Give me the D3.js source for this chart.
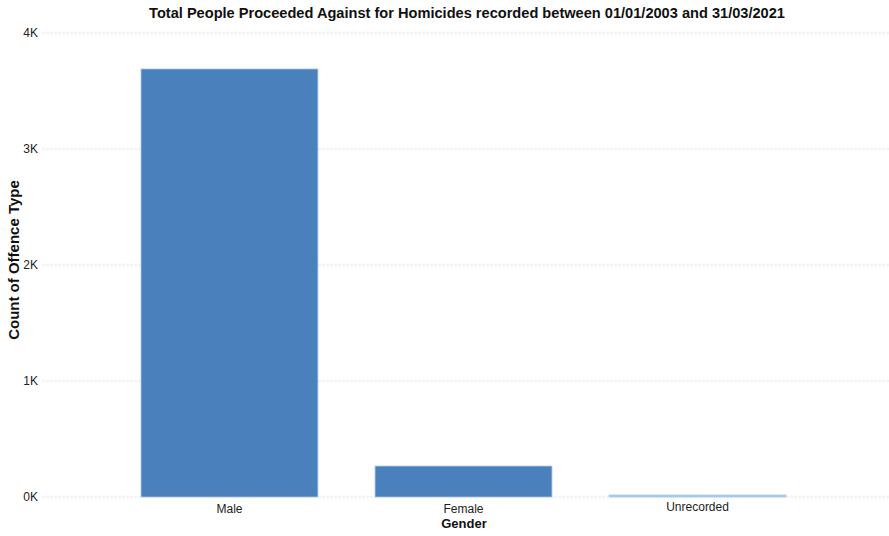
<!DOCTYPE html>
<html><head><meta charset="utf-8">
<script src="https://cdn.jsdelivr.net/npm/d3@7"></script>
<style>body{margin:0;background:#fff;}svg{display:block;font-family:"Liberation Sans",Arial,sans-serif;}</style>
</head><body><svg id="c" width="889" height="536"></svg>
<script>
const categories = ["Male", "Female", "Unrecorded"];
const counts = [3690, 267, 12];
const yTicks = [0, 1000, 2000, 3000, 4000];
const title = "Total People Proceeded Against for Homicides recorded between 01/01/2003 and 31/03/2021";

const svg = d3.select("#c");
const x = d3.scaleBand().domain(categories).range([42, 885]).paddingInner(0.244).paddingOuter(0.423);
const y = d3.scaleLinear().domain([0, 4000]).range([497, 33]);

// gridlines
svg.append("g").selectAll("line").data(yTicks).join("line")
  .attr("x1", 42).attr("x2", 889)
  .attr("y1", d => y(d)).attr("y2", d => y(d))
  .attr("stroke", "#f4f4f4").attr("stroke-width", 2.5).attr("stroke-dasharray", "3,1");

// bars
svg.append("g").selectAll("rect").data(categories).join("rect")
  .attr("x", d => x(d)).attr("width", x.bandwidth())
  .attr("y", (d, i) => Math.min(y(counts[i]), y(0) - 2))
  .attr("height", (d, i) => Math.max(y(0) - y(counts[i]), 2))
  .attr("fill", (d, i) => counts[i] < 50 ? "#a9c9ee" : "#4a80bc")
  .attr("stroke", "#a9c9ee").attr("stroke-width", 0.8);

// y axis
const ya = svg.append("g").attr("transform", "translate(38,0)")
  .call(d3.axisLeft(y).tickValues(yTicks).tickSize(0).tickPadding(0).tickFormat(d => (d / 1000) + "K"));
ya.select(".domain").remove();
ya.selectAll("text").attr("font-size", 12).attr("fill", "#222").attr("font-family", "Liberation Sans, Arial, sans-serif");

// x axis
const xa = svg.append("g").attr("transform", "translate(0,500)")
  .call(d3.axisBottom(x).tickSize(0).tickPadding(4));
xa.select(".domain").remove();
xa.selectAll("text").attr("font-size", 12).attr("fill", "#222").attr("font-family", "Liberation Sans, Arial, sans-serif")
  .attr("dy", (d) => d === "Unrecorded" ? "0.6em" : "0.75em");

// titles
svg.append("text").attr("x", 467).attr("y", 18).attr("text-anchor", "middle")
  .attr("font-size", 14.6).attr("font-weight", "bold").attr("fill", "#111").text(title);
svg.append("text").attr("x", 464).attr("y", 528).attr("text-anchor", "middle")
  .attr("font-size", 13).attr("font-weight", "bold").attr("fill", "#111").text("Gender");
svg.append("text").attr("transform", "translate(19,260) rotate(-90)").attr("text-anchor", "middle")
  .attr("font-size", 15).attr("font-weight", "bold").attr("fill", "#111").text("Count of Offence Type");
</script></body></html>
